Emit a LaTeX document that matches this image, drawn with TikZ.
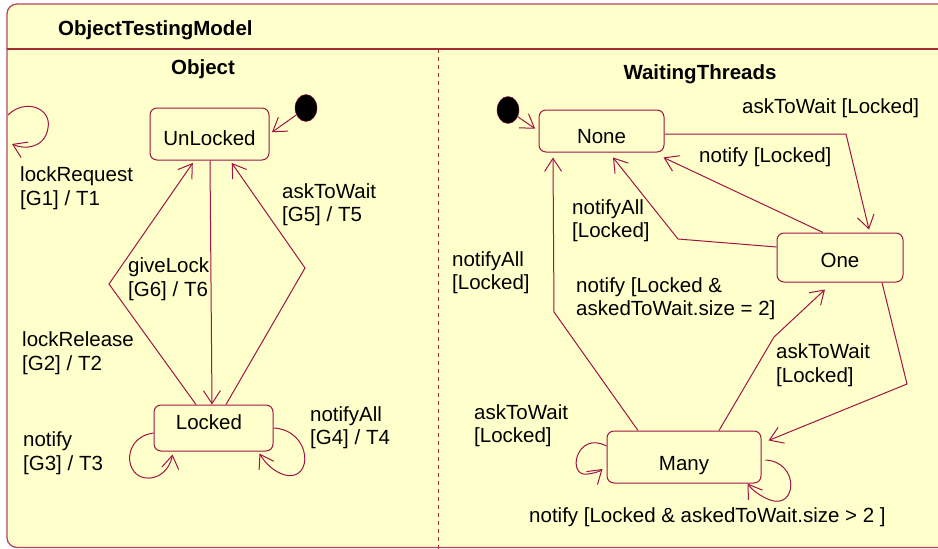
\documentclass[tikz,border=0pt]{standalone}
\usepackage{fontspec}
\setmainfont{Liberation Sans}
\usetikzlibrary{arrows.meta,shapes.geometric}
\definecolor{bgyellow}{RGB}{255,255,204}
\definecolor{umlred}{RGB}{160,20,70}
\definecolor{framered}{RGB}{180,70,100}
\definecolor{divred}{RGB}{165,45,50}
\begin{document}
\begin{tikzpicture}[x=1pt,y=-1pt,
  statebox/.style={draw=umlred,fill=bgyellow,rounded corners=7pt,inner sep=0pt,line width=1pt,font=\fontsize{20.5}{23.5}\selectfont},
  startdot/.style={ellipse,draw=umlred,fill=black,minimum width=22pt,minimum height=27pt,inner sep=0pt},
  lbl/.style={anchor=west,align=left,inner sep=0pt,font=\fontsize{20.5}{23.5}\selectfont},
  ttl/.style={inner sep=0pt,font=\fontsize{20.5}{23.5}\selectfont\bfseries},
  trans/.style={draw=umlred,line width=1pt,-{Straight Barb[length=13pt,width=17pt]}}]
\useasboundingbox (0,0) rectangle (938,549);
\draw[framered,fill=bgyellow,line width=1.3pt,rounded corners=10pt] (7,4) rectangle (950,547.5);
\draw[divred,line width=1.5pt] (7,49) -- (938,49);
\draw[divred,line width=1pt,dash pattern=on 4pt off 4pt] (438,49) -- (438,549);

\node[ttl,anchor=west] (model) at (58,30) {ObjectTestingModel};
\node[ttl] (objtitle) at (203,69) {Object};
\node[ttl] (waittitle) at (700,74) {WaitingThreads};

\node[statebox,minimum width=119pt,minimum height=52pt,text height=22.8pt,text depth=0pt] (unlocked) at (209.5,134) {UnLocked};
\node[statebox,minimum width=119pt,minimum height=46pt,text depth=12pt] (locked) at (213.5,428) {\hspace*{-9pt}Locked};
\node[statebox,minimum width=125pt,minimum height=42pt,text height=24.8pt,text depth=0pt] (none) at (601.5,131) {None};
\node[statebox,minimum width=126pt,minimum height=49pt,text height=19.8pt,text depth=0pt] (one) at (840,257.5) {One};
\node[statebox,minimum width=154pt,minimum height=52pt,text height=26.8pt,text depth=0pt] (many) at (684,457) {Many};
\node[startdot] (start1) at (306,108) {};
\node[startdot] (start2) at (508,110) {};
\coordinate (objedge) at (8,115);

\draw[trans,shorten >=3pt] (start1) -- (unlocked.east);
\draw[trans,shorten >=4pt] (start2) -- (none.west);
\draw[trans] ([xshift=0.5pt]unlocked.south) -- ([xshift=-1.5pt]locked.north);
\draw[trans,shorten >=3pt] ([xshift=-17.5pt]locked.north) -- (109,284) -- ([xshift=-15pt]unlocked.south);
\draw[trans,shorten >=3pt] ([xshift=12.5pt]locked.north) -- (305,268) -- ([xshift=20.5pt]unlocked.south);
\draw[trans] (objedge) .. controls (25,98) and (52,108) .. (48,128) .. controls (45,148) and (25,150) .. (12,144);
\draw[trans] ([yshift=-5pt]locked.west) .. controls (118,438) and (125,486) .. (155,477) .. controls (165,474) and (171,464) .. ([xshift=19pt,yshift=-3pt]locked.south west);
\draw[trans] (locked.east) .. controls (312,430) and (314,482) .. (285,475) .. controls (274,472) and (265,463) .. ([xshift=-14pt,yshift=-2pt]locked.south east);

\draw[trans] ([yshift=-3pt]none.east) -- (846,134) -- ([xshift=29pt,yshift=3pt]one.north);
\draw[trans] ([xshift=-17pt]one.north) -- ([xshift=-1pt,yshift=-5pt]none.south east);
\draw[trans] ([yshift=10.5pt]one.west) -- (678,239) -- ([xshift=11.5pt,yshift=-5pt]none.south);
\draw[trans] ([xshift=-46pt]many.north) -- (554,312) -- ([xshift=-48.5pt,yshift=-5pt]none.south);
\draw[trans] ([xshift=35pt]many.north) -- (774,337) -- ([xshift=-15pt,yshift=-7pt]one.south);
\draw[trans] ([xshift=42pt]one.south) -- (907,384) -- ([xshift=7pt,yshift=-10pt]many.north east);
\draw[trans] ([yshift=11pt]many.west) .. controls (576,430) and (566,478) .. (588,474) .. controls (594,473) and (599,472) .. ([xshift=-4pt,yshift=-12pt]many.west);
\draw[trans] ([xshift=4pt,yshift=-3pt]many.east) .. controls (800,462) and (797,510) .. (770,500) .. controls (760,496) and (752,490) .. ([xshift=-14pt]many.south east);

\node[lbl] (lreq) at (20,188) {lockRequest\\{}[G1] / T1};
\node[lbl] (ask5) at (282,204.5) {askToWait\\{}[G5] / T5};
\node[lbl] (give) at (128,279) {giveLock\\{}[G6] / T6};
\node[lbl] (lrel) at (22,353) {lockRelease\\{}[G2] / T2};
\node[lbl] (ntf) at (23,453) {notify\\{}[G3] / T3};
\node[lbl] (ntfall) at (310,427.5) {notifyAll\\{}[G4] / T4};

\node[lbl] (asklk) at (742,108) {askToWait [Locked]};
\node[lbl] (ntflk) at (699,157) {notify [Locked]};
\node[lbl] (ntfall1) at (572,220.5) {notifyAll\\{}[Locked]};
\node[lbl] (ntfall2) at (452,272.5) {notifyAll\\{}[Locked]};
\node[lbl] (ntfeq) at (576,298.5) {notify [Locked \&\\askedToWait.size = 2]};
\node[lbl] (askone) at (776,365) {askToWait\\{}[Locked]};
\node[lbl] (askmany) at (474,425.5) {askToWait\\{}[Locked]};
\node[lbl] (ntfgt) at (529,517) {notify [Locked \& askedToWait.size > 2 ]};
\end{tikzpicture}
\end{document}
